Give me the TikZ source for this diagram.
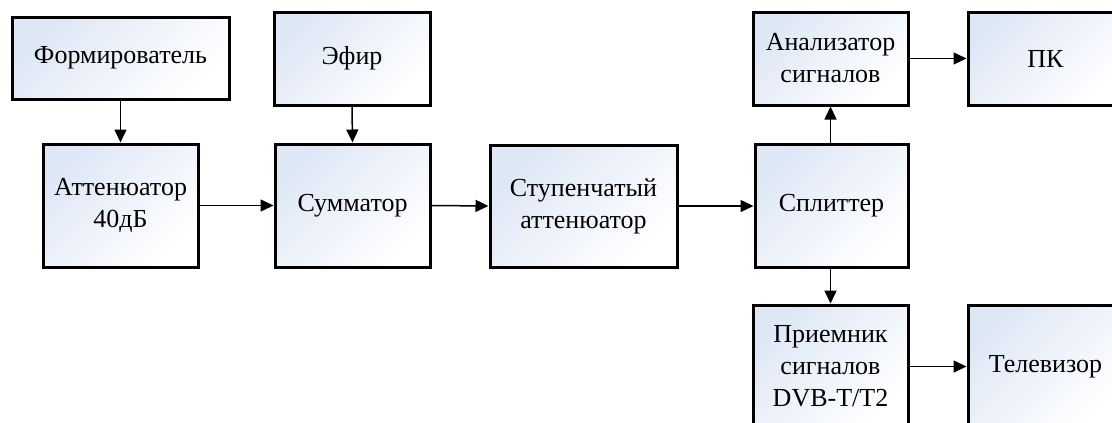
\documentclass[tikz,border=0pt]{standalone}
\usepackage{fontspec}
\setmainfont{Liberation Serif}
\usetikzlibrary{arrows.meta}
\definecolor{boxtop}{RGB}{222,231,246}
\tikzset{
  blk/.style={draw=black, line width=3pt, top color=boxtop, bottom color=white,
    shading angle=45, align=center, inner sep=0pt,
    font=\fontsize{26}{32}\selectfont},
  con/.style={line width=1.5pt, -{Triangle[length=13pt,width=12pt]}}
}
\begin{document}
\begin{tikzpicture}[x=1pt,y=-1pt]
\useasboundingbox (0,0) rectangle (1112,423);
\clip (0,0) rectangle (1112,423);
\node[blk, minimum width=217pt, minimum height=82pt] (form) at (120.5,58) {Формирователь};
\node[blk, minimum width=155pt, minimum height=123pt] (att) at (120.5,205.5) {Аттенюатор\\40дБ};
\node[blk, minimum width=156pt, minimum height=93pt] (efir) at (352,58.5) {Эфир};
\node[blk, minimum width=155pt, minimum height=123pt] (sum) at (352.5,205.5) {Сумматор};
\node[blk, minimum width=187pt, minimum height=122pt] (step) at (583.5,206) {Ступенчатый\\аттенюатор};
\node[blk, minimum width=153pt, minimum height=123pt] (split) at (831.5,205.5) {Сплиттер};
\node[blk, minimum width=155pt, minimum height=93pt] (anal) at (830.5,58.5) {Анализатор\\сигналов};
\node[blk, minimum width=155pt, minimum height=93pt] (pk) at (1045.5,58.5) {ПК};
\node[blk, minimum width=155pt, minimum height=123pt] (recv) at (830.5,366.5) {Приемник\\сигналов\\DVB-T/T2};
\node[blk, minimum width=155pt, minimum height=123pt] (tv) at (1045.5,366.5) {Телевизор};
\draw[con] (form.south -| att.north) -- (att.north);
\draw[con] (efir.south) -- (sum.north);
\draw[con] (att.east) -- (sum.west);
\draw[con] (sum.east) -- (step.west);
\draw[con] (step.east) -- (step.east -| split.west);
\draw[con] (split.north -| anal.south) -- (anal.south);
\draw[con] (anal.east) -- (pk.west);
\draw[con] (split.south -| recv.north) -- (recv.north);
\draw[con] (recv.east) -- (tv.west);
\end{tikzpicture}
\end{document}
